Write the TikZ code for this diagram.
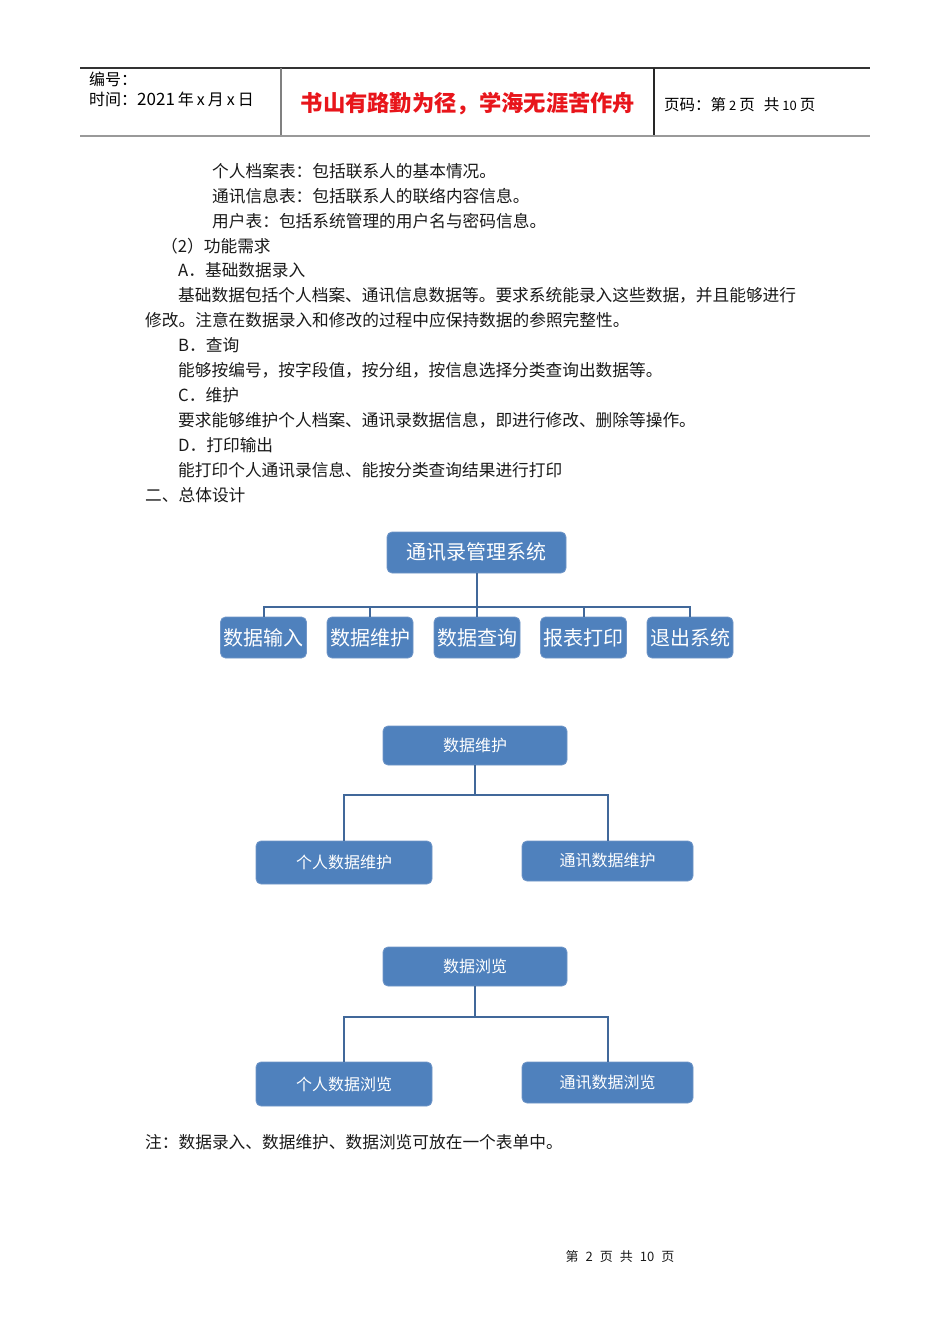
\documentclass[tikz,border=0pt]{standalone}
\usepackage{fontspec}
\setmainfont{Noto Sans CJK SC}
\usetikzlibrary{calc}
\definecolor{boxblue}{HTML}{4F81BD}
\definecolor{boxedge}{HTML}{7096C8}
\definecolor{connc}{HTML}{41689A}
\definecolor{hdrred}{HTML}{E8151B}
\definecolor{bodytxt}{HTML}{1A1A1A}
\begin{document}
\begin{tikzpicture}[x=1pt,y=-1pt,
  txt/.style={anchor=base west, inner sep=0pt, text=bodytxt, font=\fontsize{16.7}{20}\selectfont},
  treebox/.style={rectangle, rounded corners=5pt, fill=boxblue, draw=boxedge, line width=0.8pt, text=white, inner sep=0pt},
  bigbox/.style={treebox, font=\fontsize{20}{24}\selectfont},
  smallbox/.style={treebox, font=\fontsize{16}{19}\selectfont},
  conn/.style={draw=connc, line width=2pt}]
\useasboundingbox[fill=white] (0,0) rectangle (950,1344);

% header
\draw[line width=1.2pt, color=black!80] (80,68) -- (870,68);
\draw[line width=2.5pt, color=black!40] (80,136) -- (870,136);
\draw[line width=1.5pt, color=black!50] (281,68) -- (281,135);
\draw[line width=1.2pt, color=black!85] (654,68) -- (654,135);
\node[anchor=base west, inner sep=0pt, font=\fontsize{16}{19}\selectfont] (h1) at (89,85) {编号：};
\node[anchor=base west, inner sep=0pt, font=\fontsize{16}{19}\selectfont] (h2) at (89,105) {时间：{\fontsize{17}{19}\selectfont 2021}\hspace{3pt}年\hspace{3pt}x\hspace{3pt}月\hspace{3pt}x\hspace{3pt}日};
\node[anchor=base, inner sep=0pt, text=hdrred, font=\fontsize{22.3}{26}\selectfont\bfseries] (motto) at (468,111.5) {书山有路勤为径，学海无涯苦作舟};
\node[anchor=base west, inner sep=0pt, font=\fontsize{15.5}{18}\selectfont] (pg) at (664,110) {页码：第\hspace{3pt}{\fontsize{13}{15}\selectfont 2}\hspace{3pt}页\hspace{9pt}共\hspace{3pt}{\fontsize{13}{15}\selectfont 10}\hspace{3pt}页};

% body text
\node[txt] (t1) at (212,177.3) {个人档案表：包括联系人的基本情况。};
\node[txt] (t2) at (212,202.2) {通讯信息表：包括联系人的联络内容信息。};
\node[txt] (t3) at (212,227.1) {用户表：包括系统管理的用户名与密码信息。};
\node[txt] (t4) at (161,252.0) {（2）功能需求};
\node[txt] (t5) at (178,276.9) {A．基础数据录入};
\node[txt] (t6) at (178,301.8) {基础数据包括个人档案、通讯信息数据等。要求系统能录入这些数据，并且能够进行};
\node[txt] (t7) at (145,326.7) {修改。注意在数据录入和修改的过程中应保持数据的参照完整性。};
\node[txt] (t8) at (178,351.6) {B．查询};
\node[txt] (t9) at (178,376.5) {能够按编号，按字段值，按分组，按信息选择分类查询出数据等。};
\node[txt] (t10) at (178,401.4) {C．维护};
\node[txt] (t11) at (178,426.3) {要求能够维护个人档案、通讯录数据信息，即进行修改、删除等操作。};
\node[txt] (t12) at (178,451.2) {D．打印输出};
\node[txt] (t13) at (178,476.1) {能打印个人通讯录信息、能按分类查询结果进行打印};
\node[txt] (t14) at (145,501.0) {二、总体设计};

% tree 1
\node[bigbox, minimum width=179pt, minimum height=41pt] (r1) at (476.5,552.5) {通讯录管理系统};
\node[bigbox, minimum width=86pt, minimum height=41pt] (a1) at (263.5,637.5) {数据输入};
\node[bigbox, minimum width=86pt, minimum height=41pt] (a2) at (370,637.5) {数据维护};
\node[bigbox, minimum width=86pt, minimum height=41pt] (a3) at (477,637.5) {数据查询};
\node[bigbox, minimum width=86pt, minimum height=41pt] (a4) at (583.5,637.5) {报表打印};
\node[bigbox, minimum width=86pt, minimum height=41pt] (a5) at (690,637.5) {退出系统};
\coordinate (bus1) at (476.5,607);
\draw[conn] (r1.south) -- (bus1);
\draw[conn] (a1.north) |- (bus1) -| (a5.north);
\draw[conn] (a2.north) -- (a2.north |- bus1);
\draw[conn] (a3.north) -- (a3.north |- bus1);
\draw[conn] (a4.north) -- (a4.north |- bus1);

% tree 2
\node[smallbox, minimum width=184pt, minimum height=39pt] (r2) at (475,745.5) {数据维护};
\node[smallbox, minimum width=176pt, minimum height=43pt] (b1) at (344,862.5) {个人数据维护};
\node[smallbox, minimum width=171pt, minimum height=40pt] (b2) at (607.5,861) {通讯数据维护};
\coordinate (bus2) at (475,795);
\draw[conn] (r2.south) -- (bus2);
\draw[conn] (b1.north) |- (bus2) -| (b2.north);

% tree 3
\node[smallbox, minimum width=184pt, minimum height=39pt] (r3) at (475,966.5) {数据浏览};
\node[smallbox, minimum width=176pt, minimum height=44pt] (c1) at (344,1084) {个人数据浏览};
\node[smallbox, minimum width=171pt, minimum height=41pt] (c2) at (607.5,1082.5) {通讯数据浏览};
\coordinate (bus3) at (475,1017);
\draw[conn] (r3.south) -- (bus3);
\draw[conn] (c1.north) |- (bus3) -| (c2.north);

% note and footer
\node[txt] (note) at (145,1148) {注：数据录入、数据维护、数据浏览可放在一个表单中。};
\node[anchor=base, inner sep=0pt, text=bodytxt, font=\fontsize{13}{16}\selectfont] (ft) at (620,1261) {第\hspace{7pt}2\hspace{7pt}页\hspace{7pt}共\hspace{7pt}10\hspace{7pt}页};
\end{tikzpicture}
\end{document}
